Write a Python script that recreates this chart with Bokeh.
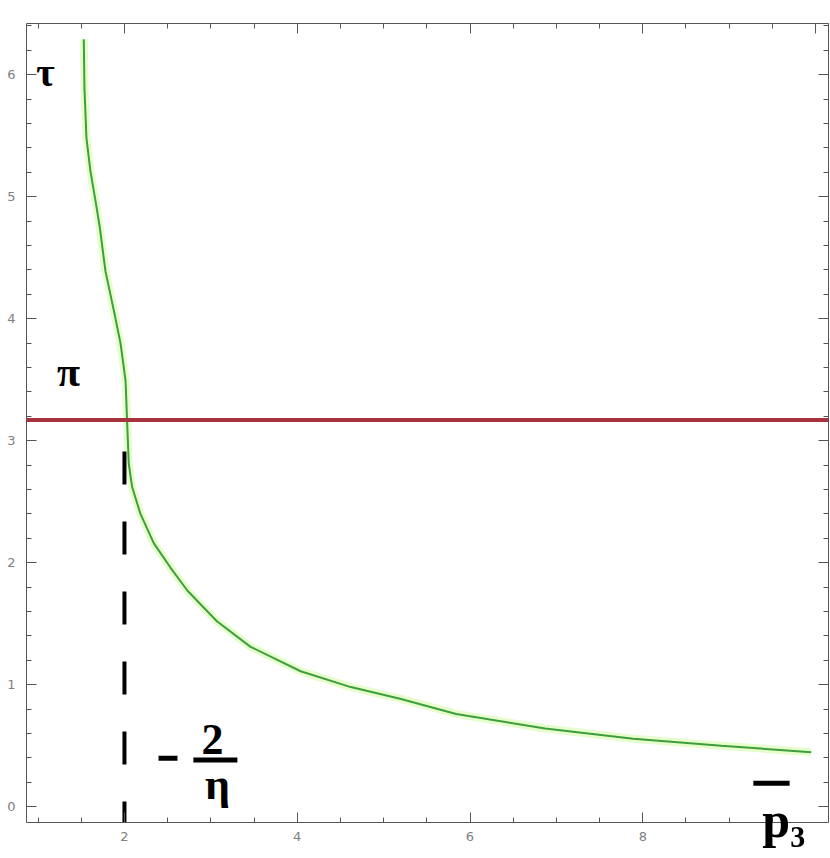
import numpy as np
from bokeh.plotting import figure
from bokeh.models import (LinearAxis, FixedTicker, Span, Label, BoxAnnotation, Range1d)
from bokeh.embed import file_html
from bokeh.resources import INLINE

# ---- data ----
p3 = [1.529, 1.537, 1.560, 1.606, 1.664, 1.714, 1.780, 1.876, 1.954, 2.013, 2.031,
      2.05, 2.089, 2.185, 2.339, 2.532, 2.73, 3.07, 3.46, 4.04, 4.62, 5.19, 5.84,
      6.87, 7.89, 8.91, 9.95]
tau = [6.29, 5.89, 5.48, 5.21, 4.97, 4.75, 4.39, 4.07, 3.80, 3.49, 3.15,
       2.81, 2.62, 2.40, 2.16, 1.96, 1.77, 1.52, 1.31, 1.11, 0.98, 0.885, 0.76,
       0.64, 0.557, 0.50, 0.445]
pi_level = 3.17          # horizontal red line (labelled pi)
dash_x = [2.0, 2.0]      # vertical dashed line at p3 = -2/eta
dash_y = [3.14, -0.3]

x_ticks = [2, 4, 6, 8]
x_ticks_top = [2, 4, 6, 8, 10]
y_ticks = [0, 1, 2, 3, 4, 5, 6]

X_RANGE = (0.866, 10.15)
Y_RANGE = (-0.13, 6.42)

x_minor = [float(v) for v in np.arange(1.0, 10.01, 0.5) if v not in x_ticks_top]
y_minor = [round(float(v), 2) for v in np.arange(-0.2, 6.41, 0.2)
           if round(float(v), 2) not in y_ticks]

p = figure(width=829, height=856, x_range=Range1d(*X_RANGE), y_range=Range1d(*Y_RANGE),
           output_backend="svg", toolbar_location=None,
           min_border_left=26, min_border_right=1, min_border_top=23, min_border_bottom=34,
           x_axis_location=None, y_axis_location=None)
p.xgrid.grid_line_color = None
p.ygrid.grid_line_color = None
p.outline_line_color = None
p.background_fill_color = "white"

SERIF = "Liberation Serif"


def style(ax, ticks, labels=True):
    ax.axis_line_color = "#555555"
    ax.axis_line_width = 1
    ax.major_tick_line_color = "#555555"
    ax.minor_tick_line_color = "#555555"
    ax.major_tick_in = 10
    ax.major_tick_out = 0
    ax.minor_tick_in = 5
    ax.minor_tick_out = 0
    if labels:
        ax.major_label_text_font = "DejaVu Sans"
        ax.major_label_text_font_size = "13px"
        ax.major_label_text_color = "#808080"
        ax.major_label_standoff = 9
    else:
        ax.major_label_overrides = {t: "" for t in ticks}
        ax.major_label_text_font_size = "1px"
        ax.major_label_standoff = 0


bottom = LinearAxis(ticker=FixedTicker(ticks=x_ticks, minor_ticks=x_minor))
style(bottom, x_ticks)
# axis title "p3" (bar drawn separately), pushed to the right end of the axis
bottom.axis_label = "\u00a0" * 57 + "p\u2083"
bottom.axis_label_text_font = SERIF
bottom.axis_label_text_font_style = "bold"
bottom.axis_label_text_font_size = "50px"
bottom.axis_label_text_color = "black"
bottom.axis_label_standoff = -52
p.add_layout(bottom, "below")

top = LinearAxis(ticker=FixedTicker(ticks=x_ticks_top, minor_ticks=x_minor))
style(top, x_ticks_top, labels=False)
p.add_layout(top, "above")

left = LinearAxis(ticker=FixedTicker(ticks=y_ticks, minor_ticks=y_minor))
style(left, y_ticks)
left.major_label_standoff = 11
p.add_layout(left, "left")

right = LinearAxis(ticker=FixedTicker(ticks=y_ticks, minor_ticks=y_minor))
style(right, y_ticks, labels=False)
p.add_layout(right, "right")

# curve (glow + core)
p.line(p3, tau, line_color="#7CFC00", line_width=8, line_alpha=0.2)
p.line(p3, tau, line_color="#3e9e3e", line_width=2)

# red horizontal line
p.add_layout(Span(location=pi_level, dimension="width", line_color="#a8323c", line_width=4))

# dashed black vertical
p.line(dash_x, dash_y, line_color="black", line_width=4, line_dash="33 37",
       line_dash_offset=42)


def lab(x, y, t, size, align="center", baseline="middle"):
    p.add_layout(Label(x=x, y=y, text=t, text_font=SERIF, text_font_style="bold",
                       text_font_size=size, text_color="black", text_align=align,
                       text_baseline=baseline, level="overlay"))


def bar(l, r, b, t):
    p.add_layout(BoxAnnotation(left=l, right=r, bottom=b, top=t, fill_color="black",
                               fill_alpha=1, line_color=None, level="overlay"))


lab(1.086, 6.02, "τ", "40px")
lab(1.352, 3.56, "π", "42px")
bar(2.394, 2.614, 0.377, 0.418)             # minus sign
lab(3.019, 0.55, "2", "44px", baseline="alphabetic")
bar(2.798, 3.307, 0.361, 0.402)             # fraction bar
lab(3.076, 0.185, "η", "44px", baseline="alphabetic")
bar(9.28, 9.70, 0.172, 0.213)               # overbar of p

open("out.html", "w").write(file_html(p, INLINE))
